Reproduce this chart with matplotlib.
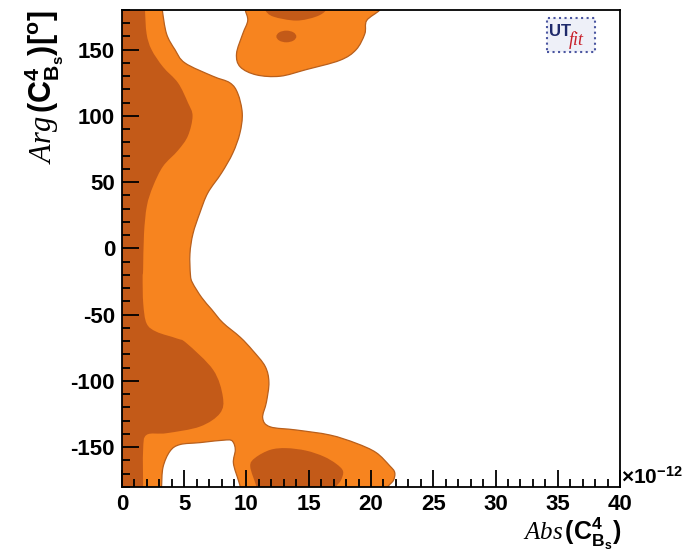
import matplotlib
matplotlib.use('Agg')
import numpy as np
import matplotlib.pyplot as plt
from matplotlib.path import Path
from matplotlib.patches import PathPatch, Ellipse, Rectangle
from matplotlib.ticker import MultipleLocator

LIGHT = '#F7841F'
DARK = '#C35A18'
EDGE = '#B85F1C'

# 95% probability region: left band + lower lobe (the white hole is cut in from the bottom).
# Points at |y| = 186 or x = -1 lie outside the frame and only close the outline.
band_x = [-1.0, 3.2, 3.24, 3.58, 4.26, 5.06, 7.3, 8.67, 9.3, 9.66, 9.47, 8.9, 8.0, 6.9, 6.26, 5.7,
          5.46, 5.5, 5.67, 6.4, 7.2, 8.1, 9.5, 10.5, 11.5, 11.8, 11.6, 11.3, 11.9, 14.0, 16.7,
          18.8, 20.4, 21.5, 21.9, 21.8, 21.35, 21.3, 9.55, 9.5, 9.35, 8.95, 9.1, 8.9, 8.4, 6.3,
          4.66, 3.86, 3.3, 3.18, 3.15, -1.0]
band_y = [186, 186, 180, 162, 150, 140, 130, 125, 117, 102, 87, 72, 57, 42, 27, 11,
          -4, -20, -26, -37, -46, -56, -67, -77, -89, -101, -116, -128, -134.6, -137, -140.8,
          -147, -154, -164, -169, -175, -180, -186, -186, -180, -175, -162, -152, -145.8, -144.5, -146.5,
          -148, -153, -165, -180, -186, -186]

# 95% region: upper lobe
top_x = [9.85, 20.8, 20.7, 19.65, 19.5, 18.8, 17.5, 14.8, 12.7, 10.8, 9.5, 9.2, 9.7, 10.1, 9.9]
top_y = [186, 186, 180, 172, 162, 150, 142, 135, 130, 131, 137, 147, 162, 172, 180]

# 68% probability regions
core_x = [-1.0, 1.85, 1.85, 1.98, 2.38, 3.3, 4.5, 5.3, 5.67, 5.3, 4.5, 3.3, 2.5, 2.0, 1.77, 1.7,
          1.66, 1.71, 1.98, 2.78, 4.4, 5.2, 7.33, 8.1, 7.87, 6.27, 3.6, 1.98, 1.7, 1.7, 1.7, -1.0]
core_y = [186, 186, 180, 162, 150, 137, 125, 110, 100, 85, 74, 62, 47, 32, 11, -16,
          -22, -41.6, -56.6, -62.9, -67.9, -71.6, -91.7, -111.8, -124.4, -134.4, -139.4, -140.7,
          -152, -180, -186, -186]

low_core_x = [10.8, 10.8, 10.3, 10.7, 11.9, 13.2, 14.8, 16.2, 17.2, 17.75, 17.6, 17.2, 17.2]
low_core_y = [-186, -180, -164.5, -158, -152, -150.7, -152.6, -157, -162.5, -168, -174.7, -180, -186]

top_core_x = [11.5, 11.5, 12.15, 14.0, 15.6, 16.4, 16.4]
top_core_y = [186, 180, 175, 172, 175, 180, 186]

spot_center = (13.2, 160.0)
spot_size = (1.6, 8.8)


def smooth_outline(xs, ys):
    # closed Catmull-Rom outline through the given points, drawn as cubic Beziers
    pts = np.column_stack([xs, ys]).astype(float)
    n = len(pts)
    verts = [pts[0]]
    codes = [Path.MOVETO]
    for i in range(n):
        p0, p1, p2, p3 = pts[i - 1], pts[i], pts[(i + 1) % n], pts[(i + 2) % n]
        verts += [p1 + (p2 - p0) / 6.0, p2 - (p3 - p1) / 6.0, p2]
        codes += [Path.CURVE4] * 3
    return Path(verts, codes)


plt.rcParams['font.family'] = 'Liberation Sans'
plt.rcParams['font.weight'] = 'bold'
plt.rcParams['axes.unicode_minus'] = False
plt.rcParams['mathtext.fontset'] = 'custom'
plt.rcParams['mathtext.bf'] = 'Liberation Sans:weight=bold'
plt.rcParams['mathtext.rm'] = 'Liberation Sans:weight=bold'
plt.rcParams['mathtext.it'] = 'Liberation Serif:style=italic:weight=normal'

fig = plt.figure(figsize=(6.89, 5.54), dpi=100)
ax = fig.add_axes([0.177, 0.121, 0.723, 0.861])

ax.add_patch(PathPatch(smooth_outline(band_x, band_y), facecolor=LIGHT, edgecolor=EDGE, lw=0.9))
ax.add_patch(PathPatch(smooth_outline(top_x, top_y), facecolor=LIGHT, edgecolor=EDGE, lw=0.9))
ax.add_patch(PathPatch(smooth_outline(core_x, core_y), facecolor=DARK, edgecolor='none'))
ax.add_patch(PathPatch(smooth_outline(low_core_x, low_core_y), facecolor=DARK, edgecolor='none'))
ax.add_patch(PathPatch(smooth_outline(top_core_x, top_core_y), facecolor=DARK, edgecolor='none'))
ax.add_patch(Ellipse(spot_center, spot_size[0], spot_size[1], facecolor=DARK, edgecolor='none'))

ax.set_xlim(0, 40)
ax.set_ylim(-180, 180)
ax.xaxis.set_major_locator(MultipleLocator(5))
ax.xaxis.set_minor_locator(MultipleLocator(1))
ax.yaxis.set_major_locator(MultipleLocator(50))
ax.yaxis.set_minor_locator(MultipleLocator(10))
ax.tick_params(which='both', direction='in', top=False, right=False, width=1.3, labelsize=16)
ax.tick_params(which='major', length=12, pad=5)
ax.tick_params(which='minor', length=6)
for sp in ax.spines.values():
    sp.set_linewidth(1.3)

fig.text(0.902, 0.119, r'$\times\mathbf{10^{-12}}$', fontsize=15, ha='left', va='bottom')
fig.text(0.902, 0.004, r'$\mathit{Abs}\,\mathbf{(C^{4}_{B_{s}})}$', fontsize=18, ha='right', va='bottom')
fig.text(0.033, 0.982, r'$\mathit{Arg}\,\mathbf{(C^{4}_{B_{s}})[^{o}]}$', fontsize=22,
         rotation=90, ha='left', va='top')

# UTfit logo
ax.add_patch(Rectangle((34.1, 148.5), 3.9, 25.5, facecolor='#EEF0F8', edgecolor='#4A55A0',
                       lw=1.5, ls=':', zorder=5))
ax.text(34.3, 164, 'UT', color='#1F2A6B', fontsize=12, fontweight='bold', ha='left', va='center', zorder=6)
ax.text(35.85, 157.5, 'fit', color='#C8202A', fontsize=13, family='Liberation Serif', style='italic',
        fontweight='normal', ha='left', va='center', zorder=6)

fig.savefig('out.png', dpi=100)
